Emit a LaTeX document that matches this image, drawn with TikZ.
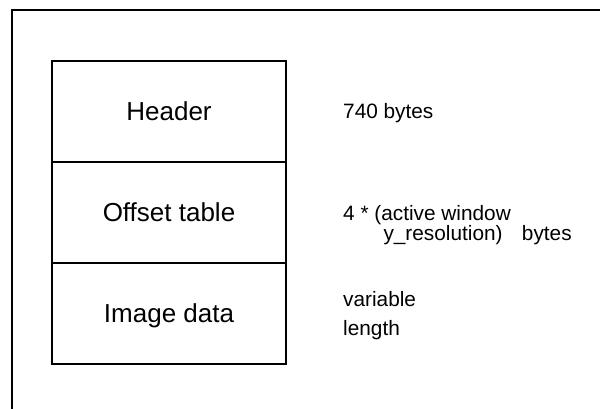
\documentclass[tikz,border=0pt]{standalone}
\usepackage{fontspec}
\setmainfont{Liberation Sans}
\begin{document}
\begin{tikzpicture}[x=1pt,y=-1pt,
  block/.style={draw=black,line width=1.4pt,rectangle,minimum width=234pt,minimum height=101pt,
    inner sep=0pt,outer sep=0pt,font=\fontsize{26}{30}\selectfont,text height=18.6pt,text depth=0pt},
  note/.style={anchor=base west,inner sep=0pt,font=\fontsize{20.8}{20}\selectfont,align=left},
  frame/.style={draw=black,line width=1.4pt}]
\useasboundingbox (0,0) rectangle (600,408);
% outer frame (cropped at right and bottom)
\coordinate (fbl) at (12,412);
\coordinate (ftl) at (12,10);
\coordinate (ftr) at (604,10);
\draw[frame] (fbl) -- (ftl) -- (ftr);
% blocks
\node[block] (header) at (169,111.5) {Header};
\node[block] (offset) at (169,212.5) {Offset table};
\node[block] (image)  at (169,313.5) {Image data};
% notes
\node[note] (n1) at (343,118.5) {740 bytes};
\node[note] (n2) at (343,220.7) {4 * (active window};
\node[note] (n3) at (383.3,240) {y\_resolution)\hspace{19.4pt}bytes};
\node[note] (n4) at (343,306.5) {variable};
\node[note] (n5) at (343,335.5) {length};
\end{tikzpicture}
\end{document}
